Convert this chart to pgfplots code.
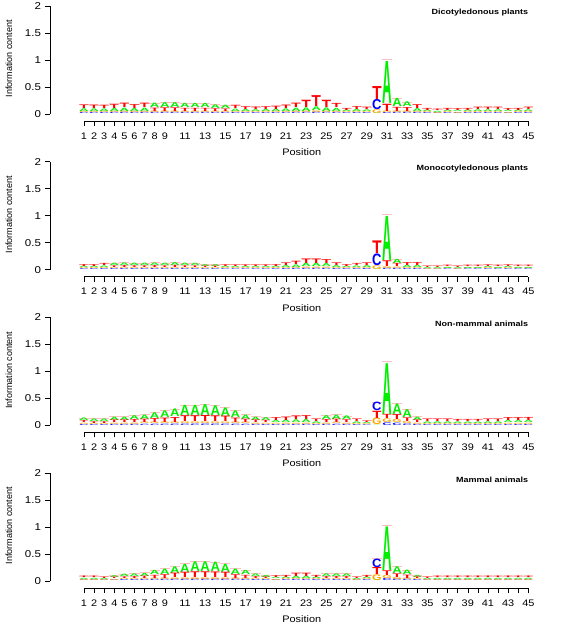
\documentclass[border=0pt]{standalone}
\usepackage{pgfplots}
\pgfplotsset{compat=1.18}
\usepackage{pgfplotstable}
\usepackage{fontspec}
\setmainfont{Liberation Sans}
\definecolor{cA}{RGB}{0,238,0}
\definecolor{cC}{RGB}{0,0,255}
\definecolor{cG}{RGB}{255,165,0}
\definecolor{cT}{RGB}{255,0,0}

% columns: position, heights of A, C, G, T (bits)
\pgfplotstableread{
pos A C G T
1 .052 .022 .026 .067
2 .051 .022 .026 .066
3 .049 .022 .026 .063
4 .059 .023 .027 .076
5 .064 .024 .028 .084
6 .057 .023 .027 .073
7 .064 .024 .028 .084
8 .084 .024 .028 .064
9 .093 .024 .028 .070
10 .093 .024 .028 .070
11 .079 .023 .027 .061
12 .079 .023 .027 .061
13 .079 .023 .027 .061
14 .069 .022 .026 .053
15 .063 .022 .026 .049
16 .047 .021 .025 .062
17 .039 .020 .024 .052
18 .035 .019 .023 .048
19 .039 .020 .024 .052
20 .045 .021 .025 .059
21 .051 .022 .026 .066
22 .064 .024 .028 .084
23 .070 .025 .030 .135
24 .070 .028 .033 .209
25 .070 .025 .030 .135
26 .061 .023 .027 .079
27 .030 .018 .022 .040
28 .041 .020 .024 .055
29 .033 .019 .023 .045
30 .005 .190 .070 .250
31 .810 .020 .030 .140
32 .155 .025 .030 .080
33 .090 .025 .030 .075
34 .055 .022 .026 .072
35 .030 .018 .022 .040
36 .024 .016 .020 .030
37 .030 .018 .022 .040
38 .027 .017 .021 .035
39 .030 .018 .022 .040
40 .033 .019 .023 .045
41 .033 .019 .023 .045
42 .033 .019 .023 .045
43 .027 .017 .021 .035
44 .030 .018 .022 .040
45 .033 .019 .023 .045
}\dicot

\pgfplotstableread{
pos A C G T
1 .027 .017 .021 .035
2 .027 .017 .021 .035
3 .030 .018 .022 .040
4 .045 .019 .023 .033
5 .049 .020 .024 .037
6 .045 .019 .023 .033
7 .045 .019 .023 .033
8 .049 .020 .024 .037
9 .045 .019 .023 .033
10 .055 .020 .024 .041
11 .045 .019 .023 .033
12 .043 .018 .022 .032
13 .035 .017 .021 .027
14 .035 .017 .021 .027
15 .026 .016 .020 .033
16 .024 .016 .020 .030
17 .024 .016 .020 .030
18 .024 .016 .020 .030
19 .024 .016 .020 .030
20 .027 .017 .021 .035
21 .037 .020 .024 .049
22 .049 .022 .026 .063
23 .064 .024 .028 .084
24 .064 .024 .028 .084
25 .057 .023 .027 .073
26 .037 .020 .024 .049
27 .027 .017 .021 .035
28 .030 .018 .022 .040
29 .037 .020 .024 .049
30 .005 .220 .070 .240
31 .850 .025 .035 .110
32 .079 .023 .027 .061
33 .041 .020 .024 .055
34 .041 .020 .024 .055
35 .019 .012 .015 .024
36 .019 .012 .015 .024
37 .022 .014 .017 .027
38 .019 .012 .015 .024
39 .022 .014 .017 .027
40 .022 .014 .017 .027
41 .024 .016 .020 .030
42 .022 .014 .017 .027
43 .024 .016 .020 .030
44 .022 .014 .017 .027
45 .022 .014 .017 .027
}\monocot

\pgfplotstableread{
pos A C G T
1 .049 .020 .024 .037
2 .048 .019 .023 .035
3 .048 .019 .023 .035
4 .063 .022 .026 .049
5 .063 .022 .026 .049
6 .073 .023 .027 .057
7 .084 .024 .028 .064
8 .110 .025 .030 .075
9 .128 .026 .031 .085
10 .146 .027 .032 .095
11 .195 .029 .034 .112
12 .195 .029 .034 .112
13 .210 .030 .035 .115
14 .187 .029 .034 .110
15 .164 .028 .033 .105
16 .128 .026 .031 .085
17 .084 .024 .028 .064
18 .063 .022 .026 .049
19 .055 .020 .024 .041
20 .041 .020 .024 .055
21 .049 .022 .026 .063
22 .053 .022 .026 .069
23 .057 .023 .027 .073
24 .033 .019 .023 .045
25 .073 .023 .027 .057
26 .084 .024 .028 .064
27 .069 .022 .026 .053
28 .033 .019 .023 .045
29 .022 .014 .017 .027
30 .005 .160 .125 .140
31 .980 .050 .070 .080
32 .200 .045 .060 .095
33 .150 .030 .040 .070
34 .063 .022 .026 .049
35 .033 .019 .023 .045
36 .033 .019 .023 .045
37 .033 .019 .023 .045
38 .030 .018 .022 .040
39 .030 .018 .022 .040
40 .030 .018 .022 .040
41 .033 .019 .023 .045
42 .033 .019 .023 .045
43 .041 .020 .024 .055
44 .041 .020 .024 .055
45 .045 .021 .025 .059
}\nonmammal

\pgfplotstableread{
pos A C G T
1 .024 .016 .020 .030
2 .024 .016 .020 .030
3 .022 .014 .017 .027
4 .035 .017 .021 .027
5 .045 .019 .023 .033
6 .049 .020 .024 .037
7 .059 .021 .025 .045
8 .079 .023 .027 .061
9 .103 .025 .030 .072
10 .128 .026 .031 .085
11 .157 .028 .033 .102
12 .187 .029 .034 .110
13 .187 .029 .034 .110
14 .180 .029 .034 .107
15 .157 .028 .033 .102
16 .103 .025 .030 .072
17 .079 .023 .027 .061
18 .049 .020 .024 .037
19 .040 .018 .022 .030
20 .027 .017 .021 .035
21 .030 .018 .022 .040
22 .045 .021 .025 .059
23 .045 .021 .025 .059
24 .030 .018 .022 .040
25 .049 .020 .024 .037
26 .049 .020 .024 .037
27 .049 .020 .024 .037
28 .022 .014 .017 .027
29 .030 .018 .022 .040
30 .005 .160 .110 .135
31 .840 .040 .060 .090
32 .130 .030 .040 .070
33 .084 .024 .028 .064
34 .040 .018 .022 .030
35 .022 .014 .017 .027
36 .024 .016 .020 .030
37 .024 .016 .020 .030
38 .024 .016 .020 .030
39 .024 .016 .020 .030
40 .024 .016 .020 .030
41 .024 .016 .020 .030
42 .024 .016 .020 .030
43 .024 .016 .020 .030
44 .024 .016 .020 .030
45 .024 .016 .020 .030
}\mammal

% base of each letter = sum of the heights of the smaller letters (logo ordering)
\def\bA{(\thisrow{C}<\thisrow{A})*\thisrow{C}+(\thisrow{G}<\thisrow{A})*\thisrow{G}+(\thisrow{T}<\thisrow{A})*\thisrow{T}}
\def\bC{(\thisrow{A}<\thisrow{C})*\thisrow{A}+(\thisrow{G}<\thisrow{C})*\thisrow{G}+(\thisrow{T}<\thisrow{C})*\thisrow{T}}
\def\bG{(\thisrow{A}<\thisrow{G})*\thisrow{A}+(\thisrow{C}<\thisrow{G})*\thisrow{C}+(\thisrow{T}<\thisrow{G})*\thisrow{T}}
\def\bT{(\thisrow{A}<\thisrow{T})*\thisrow{A}+(\thisrow{C}<\thisrow{T})*\thisrow{C}+(\thisrow{G}<\thisrow{T})*\thisrow{G}}

\pgfplotsset{
  logoaxis/.style={
    scale only axis, x=10.1pt, y=54pt,
    xmin=-2.366, xmax=48.1, ymin=-0.13, ymax=2,
    anchor=south west, clip=false,
    axis x line*=bottom, axis y line*=left, axis line style={draw=none},
    tick align=outside, major tick length=5pt,
    tick style={black, line width=0.5pt},
    xtick={1,...,45},
    xticklabels={1,2,3,4,5,6,7,8,9,,11,,13,,15,,17,,19,,21,,23,,25,,27,,29,,31,,33,,35,,37,,39,,41,,43,,45},
    ytick={0,0.5,1,1.5,2}, yticklabels={0,0.5,1,1.5,2},
    minor tick num=0,
    /pgf/number format/assume math mode=true,
    xticklabel style={font=\fontsize{9.5}{10}\selectfont, xscale=1.15, yshift=-3pt},
    yticklabel style={font=\fontsize{10}{10}\selectfont, xscale=1.15},
    xlabel={Position}, ylabel={Information content},
    every axis x label/.style={at={(axis description cs:0.494,0)}, yshift=-31pt, anchor=center,
       font=\fontsize{9.5}{10}\selectfont, xscale=1.15},
    every axis y label/.style={at={(axis description cs:0,0.54)}, xshift=-41pt, rotate=90, anchor=center,
       font=\fontsize{9}{10}\selectfont},
  },
}

\newcommand\letterplot[5]{%
  \addplot[draw=none, mark=none, nodes near coords={#2}, nodes near coords align={vertical},
    visualization depends on={7.54*\thisrow{#2} \as \hh},
    every node near coord/.append style={anchor=south, inner sep=0pt, outer sep=0pt,
      text=#4, font=\fontsize{10}{10}\selectfont\bfseries, xscale=#3, yscale=\hh}]
    table[x=pos, y expr={#5}] {#1};
}

\newcommand\logopanel[3]{%
\begin{axis}[logoaxis, at={(50pt,-#3pt)}]
  \addplot[draw=none, mark=none, forget plot,
    error bars/.cd, x dir=both, x fixed=0.5, error mark=none,
    error bar style={draw=red!25, line width=1pt}]
    table[x=pos, y expr={\thisrow{A}+\thisrow{C}+\thisrow{G}+\thisrow{T}}] {#1};
  \letterplot{#1}{C}{1.3}{cC}{\bC}
  \letterplot{#1}{G}{1.22}{cG}{\bG}
  \letterplot{#1}{A}{1.32}{cA}{\bA}
  \letterplot{#1}{T}{1.52}{cT}{\bT}
  \draw[black, line width=0.5pt] (axis cs:1,-0.13) -- (axis cs:45,-0.13);
  \draw[black, line width=0.5pt] (axis cs:-2.366,0) -- (axis cs:-2.366,2);
  \node[anchor=east, font=\fontsize{7.5}{9}\selectfont\bfseries, xscale=1.2, inner sep=0pt]
    at (axis cs:45,1.87) {#2};
\end{axis}}

\begin{document}
\begin{tikzpicture}
\path[use as bounding box] (0pt,0pt) rectangle (567pt,-624pt);
\logopanel{\dicot}{Dicotyledonous plants}{121}
\logopanel{\monocot}{Monocotyledonous plants}{276.7}
\logopanel{\nonmammal}{Non-mammal animals}{432.3}
\logopanel{\mammal}{Mammal animals}{588}
\end{tikzpicture}
\end{document}
